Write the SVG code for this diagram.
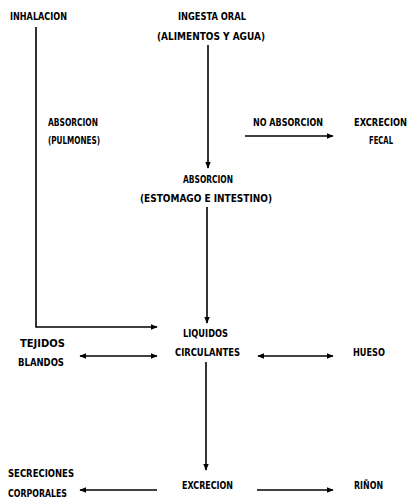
<svg xmlns="http://www.w3.org/2000/svg" width="410" height="500" viewBox="0 0 410 500">
<style>
text{font-family:"DejaVu Sans Condensed","DejaVu Sans",sans-serif;font-weight:bold;font-size:10px;fill:#000;dominant-baseline:central}
.c{stroke:#000;stroke-width:1.6;fill:none}
</style>
<defs>
<marker id="ah" viewBox="0 0 10 10" refX="9" refY="5" markerWidth="7" markerHeight="7" markerUnits="userSpaceOnUse" orient="auto-start-reverse"><path d="M0,1 L10,5 L0,9 Z" fill="#000"/></marker>
</defs>
<rect width="410" height="500" fill="#fff"/>
<g id="connectors">
<polyline class="c" points="36,27 36,327 157,327" marker-end="url(#ah)"/>
<line class="c" x1="208" y1="45" x2="208" y2="168" marker-end="url(#ah)"/>
<line class="c" x1="245" y1="136" x2="333" y2="136" marker-end="url(#ah)"/>
<line class="c" x1="207" y1="207" x2="207" y2="323" marker-end="url(#ah)"/>
<line class="c" x1="80" y1="356" x2="157" y2="356" marker-start="url(#ah)" marker-end="url(#ah)"/>
<line class="c" x1="258" y1="356" x2="333" y2="356" marker-start="url(#ah)" marker-end="url(#ah)"/>
<line class="c" x1="206" y1="362" x2="206" y2="470" marker-end="url(#ah)"/>
<line class="c" x1="157" y1="490" x2="80" y2="490" marker-end="url(#ah)"/>
<line class="c" x1="257" y1="490" x2="333" y2="490" marker-end="url(#ah)"/>
</g>
<g id="inhalacion"><text x="10" y="16" textLength="57" lengthAdjust="spacingAndGlyphs">INHALACION</text></g>
<g id="ingesta"><text x="178" y="16" textLength="68" lengthAdjust="spacingAndGlyphs">INGESTA ORAL</text><text x="157" y="36" textLength="108" lengthAdjust="spacingAndGlyphs">(ALIMENTOS Y AGUA)</text></g>
<g id="absorcion-pulmones"><text x="48" y="122" textLength="50" lengthAdjust="spacingAndGlyphs">ABSORCION</text><text x="48" y="140" textLength="52" lengthAdjust="spacingAndGlyphs">(PULMONES)</text></g>
<g id="no-absorcion"><text x="253" y="122" textLength="70" lengthAdjust="spacingAndGlyphs">NO ABSORCION</text></g>
<g id="excrecion-fecal"><text x="354" y="122" textLength="53" lengthAdjust="spacingAndGlyphs">EXCRECION</text><text x="369" y="140" textLength="24" lengthAdjust="spacingAndGlyphs">FECAL</text></g>
<g id="absorcion-estomago"><text x="183" y="179" textLength="50" lengthAdjust="spacingAndGlyphs">ABSORCION</text><text x="140" y="198" textLength="132" lengthAdjust="spacingAndGlyphs">(ESTOMAGO E INTESTINO)</text></g>
<g id="liquidos"><text x="183" y="333" textLength="45" lengthAdjust="spacingAndGlyphs">LIQUIDOS</text><text x="175" y="352" textLength="65" lengthAdjust="spacingAndGlyphs">CIRCULANTES</text></g>
<g id="tejidos"><text x="20" y="343" textLength="45" lengthAdjust="spacingAndGlyphs">TEJIDOS</text><text x="18" y="362" textLength="46" lengthAdjust="spacingAndGlyphs">BLANDOS</text></g>
<g id="hueso"><text x="353" y="352" textLength="32" lengthAdjust="spacingAndGlyphs">HUESO</text></g>
<g id="secreciones"><text x="8" y="473" textLength="66" lengthAdjust="spacingAndGlyphs">SECRECIONES</text><text x="8" y="493" textLength="59" lengthAdjust="spacingAndGlyphs">CORPORALES</text></g>
<g id="excrecion"><text x="182" y="485" textLength="51" lengthAdjust="spacingAndGlyphs">EXCRECION</text></g>
<g id="rinon"><text x="354" y="485" textLength="29" lengthAdjust="spacingAndGlyphs">RIÑON</text></g>
</svg>
